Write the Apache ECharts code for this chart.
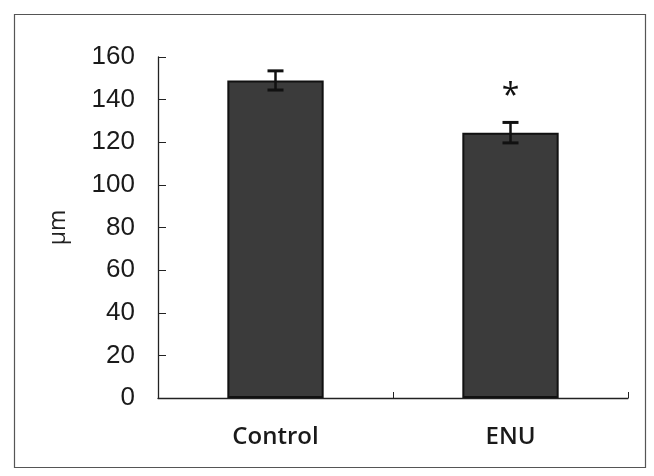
<!DOCTYPE html>
<html><head><meta charset="utf-8">
<script src="https://cdn.jsdelivr.net/npm/echarts@6/dist/echarts.min.js"></script>
<style>html,body{margin:0;padding:0;background:#fff}#c{width:654px;height:476px}</style>
</head><body><div id="c"></div>
<script>
const categories = ["Control", "ENU"];
const means = [149, 124.5];
const errors = [4.5, 4.8];
const significance = ["", "*"];
const yTicks = [0, 20, 40, 60, 80, 100, 120, 140, 160];

const chart = echarts.init(document.getElementById('c'));
const font = "'Open Sans', 'DejaVu Sans', sans-serif";
const numFont = "'Liberation Sans', Arial, sans-serif";
chart.setOption({
  animation: false,
  backgroundColor: '#fff',
  graphic: [{
    type: 'rect', left: 12, top: 12,
    shape: { width: 631, height: 453 },
    style: { fill: 'none', stroke: '#555', lineWidth: 1.2 }
  }],
  grid: { left: 158, right: 26, top: 57, bottom: 78 },
  xAxis: {
    type: 'category', data: categories,
    axisLine: { lineStyle: { color: '#222', width: 1.3 } },
    axisTick: { show: true, inside: true, length: 6, alignWithLabel: false, lineStyle: { color: '#222' } },
    axisLabel: { color: '#1a1a1a', fontSize: 24, fontWeight: 600, fontFamily: font, margin: 27 }
  },
  yAxis: {
    type: 'value', min: yTicks[0], max: yTicks[yTicks.length - 1], interval: 20,
    name: 'μm', nameLocation: 'middle', nameGap: 88, nameRotate: 90,
    nameTextStyle: { color: '#222', fontSize: 23, fontFamily: font },
    splitLine: { show: false },
    axisLine: { show: true, lineStyle: { color: '#222', width: 1.3 } },
    axisTick: { show: true, inside: true, length: 8, lineStyle: { color: '#222' } },
    axisLabel: { color: '#1a1a1a', fontSize: 26, fontFamily: numFont, margin: 23 }
  },
  series: [{
    type: 'bar', data: means, barWidth: '41%',
    itemStyle: { color: '#3b3b3b', borderColor: '#111', borderWidth: 2 }
  }, {
    type: 'custom',
    data: categories.map((c, i) => [i, means[i], errors[i], significance[i]]),
    renderItem: function (params, api) {
      const i = api.value(0), m = api.value(1), e = api.value(2);
      const top = api.coord([i, m + e]);
      const bot = api.coord([i, m - e]);
      const hw = 8;
      const children = [
        { type: 'line', shape: { x1: top[0], y1: top[1], x2: bot[0], y2: bot[1] }, style: { stroke: '#111', lineWidth: 2.5 } },
        { type: 'line', shape: { x1: top[0] - hw, y1: top[1], x2: top[0] + hw, y2: top[1] }, style: { stroke: '#111', lineWidth: 3 } },
        { type: 'line', shape: { x1: bot[0] - hw, y1: bot[1], x2: bot[0] + hw, y2: bot[1] }, style: { stroke: '#111', lineWidth: 3 } }
      ];
      const s = significance[params.dataIndex];
      if (s) {
        children.push({ type: 'text', style: { text: s, x: top[0], y: top[1] - 10, align: 'center', verticalAlign: 'bottom', fontSize: 32, fontFamily: font, fill: '#111' } });
      }
      return { type: 'group', children: children };
    },
    z: 5
  }]
});
</script></body></html>
